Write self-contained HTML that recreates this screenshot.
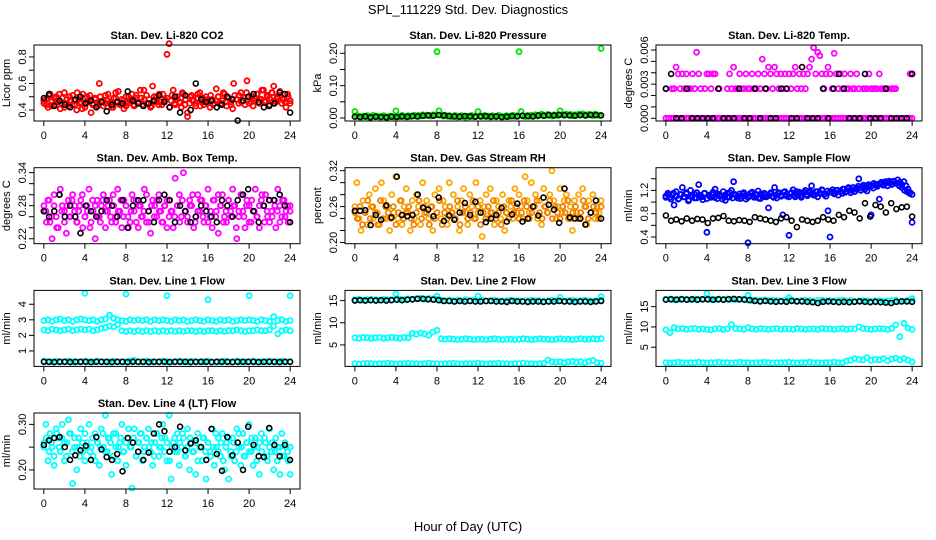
<!DOCTYPE html>
<html><head><meta charset="utf-8"><style>
html,body{margin:0;padding:0;background:#fff;}
svg{display:block;font-family:"Liberation Sans",sans-serif;}
</style></head><body>
<svg id="chart" width="936" height="540" viewBox="0 0 936 540">
<text x="468" y="14" text-anchor="middle" font-size="13">SPL_111229  Std. Dev. Diagnostics</text>
<text x="468" y="531" text-anchor="middle" font-size="13">Hour of Day (UTC)</text>
</svg>
<script>
// ---- data ----
const xTicks = [0,4,8,12,16,20,24];
const co2Red = [.45,.48,.42,.52,.47,.44,.50,.46,.41,.49,.53,.45,.43,.47,.51,.44,.40,.48,.46,.52,.42,.50,.47,.38,.45,.49,.44,.60,.46,.43,.51,.47,.45,.42,.49,.53,.46,.44,.48,.41,.50,.45,.47,.52,.43,.49,.46,.55,.44,.48,.51,.45,.42,.58,.47,.50,.44,.46,.52,.48,.82,.90,.47,.55,.44,.50,.46,.42,.52,.48,.38,.45,.51,.47,.43,.49,.53,.46,.44,.50,.47,.42,.48,.45,.56,.50,.44,.47,.52,.43,.49,.46,.41,.51,.48,.45,.53,.47,.44,.62,.50,.46,.43,.49,.52,.45,.48,.55,.47,.50,.44,.53,.58,.46,.49,.51,.45,.48,.42,.50,.47];
const co2Red2 = [.47,.44,.51,.43,.49,.46,.52,.45,.42,.48,.50,.44,.47,.53,.45,.41,.49,.46,.51,.44,.48,.43,.50,.47,.45,.52,.46,.42,.49,.54,.45,.47,.43,.50,.48,.44,.51,.46,.49,.55,.45,.48,.43,.50,.46,.52,.44,.47,.49,.42,.51,.45,.48,.46,.53,.44,.35,.50,.47,.45,.52,.43,.49,.46,.48,.51,.44,.47,.50,.45,.53,.46,.49,.44,.60,.48,.51,.46,.49,.53,.45,.50,.47,.52,.48,.55,.46,.51,.49,.53,.47,.50,.54,.48,.46,.52,.45];
const co2Black = [.49,.52,.43,.47,.44,.42,.48,.50,.45,.47,.42,.46,.39,.44,.46,.45,.54,.47,.45,.43,.45,.47,.51,.46,.42,.50,.38,.51,.40,.60,.48,.46,.47,.42,.44,.50,.48,.32,.47,.50,.52,.46,.42,.43,.45,.53,.52,.38];
const presGreen = [.020,.008,.005,.003,.006,.004,.007,.002,.005,.008,.004,.006,.003,.005,.007,.004,.002,.006,.005,.003,.022,.006,.004,.008,.005,.003,.007,.004,.006,.009,.005,.008,.006,.010,.007,.009,.008,.006,.010,.009,.205,.022,.008,.006,.009,.005,.007,.004,.006,.008,.003,.005,.007,.004,.002,.006,.005,.008,.004,.006,.020,.007,.005,.008,.004,.006,.003,.007,.005,.004,.008,.006,.003,.005,.007,.004,.006,.008,.005,.007,.205,.020,.006,.004,.008,.005,.009,.007,.010,.006,.008,.012,.009,.007,.011,.008,.006,.010,.009,.007,.022,.010,.008,.012,.009,.011,.007,.010,.008,.012,.009,.013,.010,.008,.011,.009,.007,.012,.010,.008,.215];
const presBlack = [.004,.003,.005,.002,.004,.003,.002,.004,.003,.005,.004,.006,.005,.007,.008,.007,.009,.008,.006,.005,.004,.006,.005,.004,.005,.006,.004,.005,.003,.004,.006,.005,.007,.006,.005,.008,.007,.009,.008,.010,.009,.008,.007,.009,.008,.010,.009,.008];
const tempZero = [0,0,0,0,0,0,0,0,0,0,0,0,0,0,0,0,0,0,0,0,0,0,0,0,0,0,0,0,0,0,0,0,0,0,0,0,0,0,0,0,0,0,0,0,0,0,0,0,0,0,0,0,0,0,0,0,0,0,0,0,0,0,0,0,0,0,0,0,0,0,0,0,0,0,0,0,0,0,0,0,0,0,0,0,0,0,0,0,0,0,0,0,0,0,0,0,0];
const tempMid = [.0026,null,null,.0026,.0026,.0045,.0039,.0026,.0039,.0026,.0039,.0026,.0026,.0039,.0026,.0058,.0039,.0026,null,.0026,.0039,.0039,.0026,.0039,.0039,null,.0026,null,null,null,.0026,.0039,.0026,.0045,.0026,.0026,.0039,.0026,.0026,.0039,.0026,.0026,.0039,.0026,.0026,.0039,.0026,.0052,.0039,.0026,.0045,.0039,.0026,.0045,.0039,.0026,.0039,.0026,.0039,.0026,.0039,.0026,.0039,.0045,.0026,.0039,.0026,.0039,.0026,.0039,.0045,.0052,.0062,.0039,.0058,.0055,.0039,.0026,.0039,.0045,.0039,.0026,.0057,.0039,.0026,.0039,.0026,.0039,.0026,.0026,.0039,.0026,.0026,.0039,.0026,null,.0026,.0026,.0026,.0039,.0026,.0026,.0026,.0026,.0039,.0026,.0026,.0026,.0026,null,.0026,.0026,.0026,null,null,null,null,null,null,.0039,.0039];
const tempBlack = [.0026,.0039,0,0,.0026,0,0,0,0,0,.0026,0,0,0,.0026,0,0,.0026,0,.0026,0,0,.0026,.0026,0,0,.0045,0,0,0,.0026,0,.0026,.0039,.0026,0,0,0,.0039,0,0,0,.0026,0,0,0,0,.0039];
const boxMag = [.28,.27,.29,.25,.22,.30,.26,.24,.31,.28,.27,.23,.29,.26,.30,.28,.25,.27,.29,.24,.26,.28,.31,.25,.27,.22,.29,.26,.28,.30,.24,.27,.29,.25,.28,.26,.31,.27,.24,.29,.28,.26,.25,.30,.27,.29,.24,.28,.26,.31,.25,.27,.23,.29,.28,.26,.30,.27,.25,.28,.29,.26,.27,.24,.33,.28,.30,.26,.34,.27,.25,.29,.28,.24,.26,.30,.27,.29,.25,.28,.31,.26,.24,.29,.27,.23,.28,.30,.26,.25,.29,.27,.31,.28,.22,.26,.30,.27,.24,.29,.28,.25,.27,.31,.26,.24,.29,.28,.30,.26,.25,.27,.29,.24,.31,.28,.26,.29,.27,.25,.28];
const boxMag2 = [.27,.25,.29,.26,.28,.24,.30,.27,.25,.28,.26,.29,.27,.25,.28,.30,.26,.27,.24,.29,.28,.26,.25,.29,.27,.28,.26,.30,.25,.27,.29,.26,.28,.24,.27,.29,.25,.28,.26,.27,.30,.25,.28,.26,.29,.27,.25,.28,.24,.29,.27,.26,.28,.25,.29,.27,.26,.28,.30,.25,.27,.29,.26,.28,.25,.27,.29,.26,.30,.28,.25,.27,.29,.26,.28,.24,.27,.30,.26,.28,.25,.29,.27,.26,.28,.30,.25,.27,.29,.26,.28,.27,.25,.29,.26,.28,.27];
const boxBlack = [.27,.26,.27,.30,.26,.28,.26,.23,.28,.27,.26,.27,.29,.28,.26,.29,.24,.28,.29,.29,.27,.25,.29,.30,.29,.25,.28,.27,.25,.26,.28,.27,.26,.25,.29,.28,.26,.29,.30,.31,.27,.25,.28,.29,.29,.30,.28,.25];
const rhOrange = [.26,.30,.24,.22,.27,.25,.23,.28,.26,.24,.29,.25,.23,.30,.27,.24,.26,.22,.28,.25,.31,.24,.27,.23,.26,.29,.25,.22,.27,.24,.28,.26,.23,.30,.25,.27,.24,.26,.22,.28,.25,.29,.24,.27,.26,.23,.30,.25,.28,.24,.26,.22,.27,.29,.25,.23,.28,.26,.24,.30,.25,.27,.21,.26,.28,.24,.29,.25,.23,.27,.26,.24,.28,.22,.25,.27,.26,.24,.29,.25,.28,.26,.24,.31,.27,.25,.30,.26,.28,.24,.27,.23,.29,.26,.25,.28,.32,.27,.24,.26,.29,.25,.27,.28,.24,.26,.22,.27,.25,.28,.24,.29,.26,.23,.27,.25,.28,.24,.26,.25,.27];
const rhOrange2 = [.25,.24,.26,.23,.25,.27,.24,.26,.25,.23,.27,.24,.26,.25,.24,.26,.23,.25,.27,.24,.25,.26,.24,.23,.25,.27,.24,.26,.25,.23,.26,.24,.25,.27,.23,.25,.24,.26,.25,.24,.27,.23,.25,.26,.24,.25,.27,.24,.26,.23,.25,.24,.26,.25,.27,.24,.25,.23,.26,.25,.24,.27,.25,.26,.24,.25,.27,.26,.24,.25,.26,.27,.25,.24,.26,.25,.27,.24,.26,.25,.24,.26,.25,.27,.24,.25,.26,.24,.25,.27,.26,.24,.25,.26,.25,.24,.26];
const rhBlack = [.253,.253,.254,.229,.246,.238,.262,.242,.31,.246,.244,.246,.28,.258,.255,.244,.275,.236,.245,.238,.25,.266,.246,.268,.25,.234,.24,.246,.258,.235,.247,.265,.235,.24,.26,.245,.275,.263,.255,.233,.29,.242,.24,.24,.23,.25,.27,.24];
const flowBlue = [1.10,1.15,1.08,1.12,0.95,1.18,1.05,1.13,1.25,1.09,1.14,1.02,1.20,1.11,1.07,1.16,1.30,1.10,1.04,1.15,0.48,1.12,1.08,1.17,1.22,1.06,1.13,1.10,1.18,1.03,1.15,1.09,1.20,1.35,1.12,1.07,1.14,1.10,1.16,1.05,0.30,1.11,1.17,1.08,1.13,1.19,1.06,1.12,1.15,1.09,0.90,1.14,1.10,1.25,1.07,1.16,1.12,0.78,1.18,1.10,0.43,1.15,1.21,1.09,1.13,1.17,1.08,1.14,1.20,1.11,1.16,1.28,1.12,1.18,1.09,1.15,1.21,1.13,1.10,0.85,0.40,1.17,1.14,1.20,1.12,1.18,1.15,1.22,1.19,1.25,1.16,1.21,1.18,1.24,1.40,1.20,1.26,1.22,1.19,1.28,0.78,1.24,1.30,1.27,1.05,1.32,1.29,1.35,1.28,1.33,1.30,1.36,1.32,1.38,1.34,1.30,1.35,1.28,1.22,1.16,0.65];
const flowBlue2 = [1.08,1.12,1.05,1.15,1.10,1.06,1.13,1.09,1.16,1.04,1.11,1.14,1.07,1.12,1.09,1.15,1.06,1.10,1.13,1.08,1.14,1.11,1.05,1.12,1.09,1.16,1.07,1.13,1.10,1.06,1.14,1.11,1.08,1.15,1.10,1.12,1.07,1.14,1.09,1.13,1.11,1.16,1.08,1.12,1.15,1.10,1.17,1.13,1.09,1.16,1.12,1.18,1.14,1.11,1.17,1.13,1.19,1.15,1.12,1.18,1.16,1.20,1.14,1.19,1.17,1.21,1.15,1.20,1.18,1.22,1.17,1.23,1.20,1.25,1.22,1.27,1.24,1.29,1.26,1.30,1.27,1.32,1.29,1.31,1.34,1.30,1.33,1.36,1.31,1.35,1.32,1.28,1.25,1.20,1.18,1.15,1.13];
const flowBlack = [.77,.68,.70,.67,.72,.68,.71,.70,.64,.72,.73,.76,.68,.67,.69,.68,.66,.74,.72,.70,.68,.66,.72,.74,.68,.57,.70,.68,.66,.68,.74,.70,.68,.78,.74,.85,.82,.72,.98,.75,.95,.92,.82,.98,.88,.91,.92,.75];
const l1Top = [2.95,3.0,2.9,3.0,3.05,2.95,3.0,2.9,3.0,3.05,3.0,2.95,3.0,2.9,3.0,3.05,3.3,3.1,3.0,2.95,2.9,3.0,2.95,3.0,2.95,3.0,2.9,3.0,2.95,3.0,2.95,2.9,3.0,2.95,3.0,2.9,2.95,3.0,2.95,2.9,3.0,2.95,2.9,3.0,2.95,3.0,2.9,2.95,3.0,2.95,3.0,2.95,2.9,3.0,2.95,2.9,3.2,2.95,3.0,2.9,2.95];
const l1Mid = [2.35,2.3,2.4,2.35,2.3,2.35,2.4,2.3,2.35,2.4,2.35,2.4,2.3,2.35,2.45,2.5,2.6,2.55,2.7,2.3,2.25,2.3,2.25,2.3,2.25,2.3,2.25,2.3,2.25,2.3,2.25,2.3,2.25,2.3,2.25,2.3,2.3,2.25,2.3,2.25,2.3,2.3,2.25,2.3,2.25,2.3,2.3,2.35,2.3,2.25,2.3,2.3,2.35,2.3,2.3,2.35,2.6,2.1,2.3,2.35,2.3];
const l1Low = [.35,.3,.3,.35,.3,.3,.35,.3,.3,.3,.35,.3,.3,.35,.3,.3,.3,.35,.3,.3,.3,.35,.4,.3,.3,.35,.3,.3,.3,.35,.3,.3,.3,.35,.3,.3,.35,.3,.3,.3,.35,.3,.3,.3,.35,.3,.3,.35,.3,.3,.3,.35,.3,.3,.3,.35,.3,.3,.35,.3,.3];
const l1Black = [.3,.3,.28,.3,.3,.28,.3,.3,.3,.28,.3,.3,.3,.28,.3,.3,.28,.3,.3,.3,.28,.3,.3,.3,.28,.3,.3,.3,.28,.3,.3,.3,.28,.3,.3,.3,.28,.3,.3,.3,.3,.28,.3,.3,.3,.28,.3,.3];
const l1Spike = [null,4.7,4.65,4.55,4.3,4.55,4.55];
const l2Top = [15.2,15.3,15.1,15.2,15.3,15.2,15.1,15.3,15.2,15.2,15.4,15.3,15.2,15.4,15.3,15.4,15.5,15.3,15.5,15.4,15.3,15.1,15.0,15.1,15.0,15.1,15.0,15.2,15.0,15.1,15.0,15.1,14.9,15.0,15.1,15.0,14.9,15.0,15.1,15.0,15.0,14.9,15.0,15.1,15.0,15.0,14.9,15.0,15.1,15.0,15.0,14.9,15.0,15.1,14.9,15.0,15.1,15.0,14.9,15.0,15.1];
const l2Mid = [6.6,6.5,6.7,6.6,6.5,6.6,6.7,6.5,6.6,6.7,6.6,6.5,6.7,6.6,7.6,7.4,7.7,7.5,7.2,7.9,8.3,6.4,6.3,6.4,6.3,6.2,6.3,6.4,6.3,6.2,6.3,6.3,6.2,6.3,6.4,6.3,6.2,6.3,6.3,6.2,6.3,6.4,6.3,6.2,6.3,6.4,6.3,6.3,6.2,6.3,6.4,6.3,6.3,6.2,6.3,6.4,6.3,6.3,6.4,6.3,6.4];
const l2Low = [0.8,0.7,0.8,0.9,0.8,0.7,0.8,0.8,0.9,0.8,0.7,0.8,0.8,0.9,0.8,0.8,0.7,0.8,0.9,0.8,0.8,0.7,0.8,0.8,0.9,0.8,0.7,0.8,0.8,0.8,0.9,0.8,0.7,0.8,0.8,0.9,0.8,0.8,0.7,0.8,0.8,0.9,0.8,0.8,0.7,0.8,0.9,1.6,1.2,1.1,1.2,1.0,1.2,1.3,1.1,1.2,1.0,1.3,1.5,1.0,0.9];
const l2Black = [15.0,15.1,15.0,15.1,15.0,15.1,15.0,15.1,15.2,15.1,15.2,15.3,15.4,15.4,15.3,15.2,15.1,14.9,14.9,14.8,14.9,14.8,14.9,14.8,14.8,14.9,14.9,14.8,14.8,14.7,14.9,14.8,14.8,14.7,14.8,14.8,14.7,14.8,14.8,14.9,14.8,14.8,14.7,14.8,14.8,14.7,14.8,14.9];
const l2Spike = [null,16.5,16.0,16.0,null,15.7,15.9];
const l3Top = [16.8,16.9,16.7,16.8,16.9,16.8,16.7,16.9,16.8,16.8,16.9,16.8,16.7,16.9,16.8,16.9,16.8,16.7,16.8,16.9,16.6,16.5,16.6,16.5,16.6,16.5,16.6,16.5,16.4,16.5,16.6,16.5,16.4,16.5,16.6,16.5,16.4,16.5,16.6,16.4,16.5,16.4,16.5,16.6,16.4,16.5,16.3,16.4,16.5,16.4,16.3,16.4,16.5,16.3,16.4,16.5,16.6,16.3,16.4,16.5,16.8];
const l3Mid = [9.3,8.6,9.8,9.5,9.6,9.4,9.5,9.6,9.4,9.5,9.4,9.3,9.5,9.6,9.4,9.5,10.6,9.6,9.5,9.4,9.8,9.5,9.4,9.6,9.5,9.4,9.5,9.6,9.4,9.5,9.5,9.4,9.6,9.5,9.4,9.5,9.5,9.4,9.6,9.5,9.5,9.4,9.5,9.6,9.4,9.5,9.5,10.0,9.6,9.5,9.4,9.5,9.6,9.5,9.4,9.6,10.5,7.6,10.9,9.7,9.4];
const l3Low = [1.2,1.1,1.2,1.3,1.2,1.1,1.2,1.2,1.3,1.2,1.1,1.2,1.2,1.3,1.2,1.2,1.1,1.2,1.3,1.2,1.2,1.1,1.2,1.2,1.3,1.2,1.1,1.2,1.2,1.2,1.3,1.2,1.1,1.2,1.2,1.3,1.2,1.2,1.1,1.2,1.2,1.3,1.2,1.2,1.6,1.8,2.2,2.0,1.9,2.4,1.8,2.0,1.9,2.2,1.7,2.1,2.3,1.9,2.2,1.8,1.4];
const l3Black = [16.7,16.8,16.7,16.8,16.7,16.8,16.7,16.8,16.8,16.7,16.8,16.7,16.8,16.9,16.8,16.7,16.6,16.4,16.3,16.4,16.3,16.2,16.3,16.2,16.4,16.3,16.3,16.2,16.1,15.9,16.2,16.3,16.2,16.1,16.2,16.1,16.2,16.3,16.2,16.1,16.2,16.1,16.0,15.9,16.2,16.3,16.3,16.2];
const l3Spike = [null,18.2,17.8,17.2,null,null,17.0];
const lt4Cyan = [.26,.30,.22,.28,.25,.21,.29,.27,.24,.30,.26,.23,.31,.28,.17,.25,.20,.27,.29,.24,.22,.26,.30,.25,.23,.28,.26,.21,.29,.25,.32,.24,.27,.19,.28,.25,.22,.26,.30,.24,.21,.27,.25,.16,.29,.23,.26,.28,.22,.25,.27,.29,.24,.21,.26,.28,.23,.25,.30,.27,.22,.32,.18,.26,.24,.28,.21,.25,.27,.23,.29,.20,.26,.24,.19,.28,.25,.22,.27,.18,.26,.24,.29,.21,.25,.27,.23,.28,.20,.26,.18,.24,.27,.22,.29,.25,.21,.28,.23,.26,.30,.24,.21,.27,.25,.19,.28,.23,.26,.22,.29,.24,.20,.27,.25,.19,.28,.23,.25,.22,.19];
const lt4Cyan2 = [.25,.27,.24,.26,.23,.28,.25,.27,.22,.26,.28,.24,.27,.25,.23,.26,.28,.25,.24,.27,.22,.26,.25,.28,.24,.27,.26,.23,.28,.25,.27,.24,.26,.29,.25,.27,.23,.26,.28,.24,.27,.25,.26,.23,.28,.25,.27,.24,.26,.22,.25,.27,.24,.26,.28,.23,.25,.27,.24,.26,.22,.25,.27,.24,.26,.23,.25,.28,.24,.26,.22,.25,.27,.23,.26,.24,.28,.25,.23,.26,.24,.27,.25,.22,.26,.24,.27,.23,.25,.26,.24,.22,.25,.23,.26,.24,.25];
const lt4Black = [.255,.265,.27,.272,.25,.222,.232,.243,.253,.222,.272,.245,.228,.222,.235,.197,.27,.26,.24,.222,.238,.28,.3,.285,.24,.25,.295,.243,.258,.265,.25,.222,.29,.235,.198,.272,.232,.26,.2,.295,.255,.23,.228,.292,.255,.23,.255,.222];
// axes ticks
const co2YTicks = [0.4,0.5,0.6,0.7,0.8];
const co2YLabels = ["0.4","","0.6","","0.8"];
const presYTicks = [0,0.05,0.10,0.15,0.20];
const presYLabels = ["0.00","","0.10","","0.20"];
const tempYTicks = [0,0.001,0.002,0.003,0.004,0.005,0.006];
const tempYLabels = ["0.000","","","0.003","","","0.006"];
const boxYTicks = [0.22,0.24,0.26,0.28,0.30,0.32,0.34];
const boxYLabels = ["0.22","","","0.28","","","0.34"];
const rhYTicks = [0.20,0.22,0.24,0.26,0.28,0.30,0.32];
const rhYLabels = ["0.20","","","0.26","","","0.32"];
const flowYTicks = [0.4,0.6,0.8,1.0,1.2,1.4];
const flowYLabels = ["0.4","","0.8","","1.2",""];
const l1YTicks = [1,2,3,4];
const l1YLabels = ["1","2","3","4"];
const l2YTicks = [5,10,15];
const l2YLabels = ["5","10","15"];
const l3YTicks = [5,10,15];
const l3YLabels = ["5","10","15"];
const lt4YTicks = [0.20,0.25,0.30];
const lt4YLabels = ["0.20","","0.30"];

const CYAN='#00ffff';
const panels = [
 {name:'co2',title:'Stan. Dev. Li-820 CO2',ylab:'Licor ppm',col:0,row:0,dom:[0.317,0.89],yt:co2YTicks,yl:co2YLabels,series:[[co2Red,'#ff0000'],[co2Red2,'#ff0000'],[co2Black,'#000']]},
 {name:'pressure',title:'Stan. Dev. Li-820 Pressure',ylab:'kPa',col:1,row:0,dom:[-0.0093,0.2257],yt:presYTicks,yl:presYLabels,series:[[presGreen,'#00e400'],[presBlack,'#000']]},
 {name:'temp',title:'Stan. Dev. Li-820 Temp.',ylab:'degrees C',col:2,row:0,dom:[-0.00024,0.00644],yt:tempYTicks,yl:tempYLabels,series:[[tempZero,'#ff00ff'],[tempMid,'#ff00ff'],[tempBlack,'#000']]},
 {name:'box-temp',title:'Stan. Dev. Amb. Box Temp.',ylab:'degrees C',col:0,row:1,dom:[0.211,0.349],yt:boxYTicks,yl:boxYLabels,series:[[boxMag,'#ff00ff'],[boxMag2,'#ff00ff'],[boxBlack,'#000']]},
 {name:'gas-rh',title:'Stan. Dev. Gas Stream RH',ylab:'percent',col:1,row:1,dom:[0.198,0.325],yt:rhYTicks,yl:rhYLabels,series:[[rhOrange,'#ffa500'],[rhOrange2,'#f08000'],[rhBlack,'#000']]},
 {name:'sample-flow',title:'Stan. Dev. Sample Flow',ylab:'ml/min',col:2,row:1,dom:[0.285,1.59],yt:flowYTicks,yl:flowYLabels,series:[[flowBlue,'#0000ff'],[flowBlue2,'#0000ff'],[flowBlack,'#000']]},
 {name:'line1',title:'Stan. Dev. Line 1 Flow',ylab:'ml/min',col:0,row:2,dom:[0.006,4.89],yt:l1YTicks,yl:l1YLabels,series:[[l1Top,CYAN],[l1Mid,CYAN],[l1Low,CYAN],[l1Spike,CYAN],[l1Black,'#000']]},
 {name:'line2',title:'Stan. Dev. Line 2 Flow',ylab:'ml/min',col:1,row:2,dom:[0.16,17.3],yt:l2YTicks,yl:l2YLabels,series:[[l2Top,CYAN],[l2Mid,CYAN],[l2Low,CYAN],[l2Spike,CYAN],[l2Black,'#000']]},
 {name:'line3',title:'Stan. Dev. Line 3 Flow',ylab:'ml/min',col:2,row:2,dom:[0.27,19.0],yt:l3YTicks,yl:l3YLabels,series:[[l3Top,CYAN],[l3Mid,CYAN],[l3Low,CYAN],[l3Spike,CYAN],[l3Black,'#000']]},
 {name:'line4',title:'Stan. Dev. Line 4 (LT) Flow',ylab:'ml/min',col:0,row:3,dom:[0.158,0.325],yt:lt4YTicks,yl:lt4YLabels,series:[[lt4Cyan,CYAN],[lt4Cyan2,CYAN],[lt4Black,'#000']]}
];
const colLeft=[34,345,656], rowTop=[45,167.7,290.4,413], PW=266, PH=76;
const NS='http://www.w3.org/2000/svg';
const svg=document.getElementById('chart');
function mk(tag,attrs,parent){const e=document.createElementNS(NS,tag);for(const k in attrs)e.setAttribute(k,attrs[k]);parent.appendChild(e);return e;}

panels.forEach(p=>{
  const L=colLeft[p.col], T=rowTop[p.row], B=T+PH;
  const xs=h=>L+(h+0.96)/25.92*PW;
  const ys=v=>B-(v-p.dom[0])/(p.dom[1]-p.dom[0])*PH;
  const g=mk('g',{},svg);
  
  
  const t=mk('text',{x:L+PW/2,y:T-6,'text-anchor':'middle','font-size':'11','font-weight':'bold'},g);
  t.textContent=p.title;
  
  
  const yl=mk('text',{x:0,y:0,'text-anchor':'middle','font-size':'11',transform:`translate(${L-24},${(T+B)/2}) rotate(-90)`},g);
  yl.textContent=p.ylab;
  
  
  p.series.forEach((s,si)=>{
    const vals=s[0], n=vals.length;
    const black = s[1]==='#000';
    const sg=mk('g',{fill:'none',stroke:s[1],'stroke-width':black?'1.6':'1.8'},g);
    
    
    vals.forEach((v,i)=>{
      if(v===null) return;
      const h=n>1?i*24/(n-1):0;
      const c=mk('circle',{cx:xs(h).toFixed(1),cy:ys(v).toFixed(1),r:'2.5'},sg);
      
      
    });
  });
  const r=mk('rect',{x:L,y:T,width:PW,height:PH,fill:'none',stroke:'#000','stroke-width':'1'},g);
  
  
  xTicks.forEach(h=>{
    const x=xs(h);
    mk('line',{x1:x,x2:x,y1:B,y2:B+5,stroke:'#000'},g);
    const tl=mk('text',{x:x,y:B+18,'text-anchor':'middle','font-size':'11'},g);
    tl.textContent=h;
    
    
  });
  p.yt.forEach((v,i)=>{
    const y=ys(v);
    mk('line',{x1:L-5,x2:L,y1:y,y2:y,stroke:'#000'},g);
    if(p.yl[i]){
      const tl=mk('text',{x:0,y:0,'text-anchor':'middle','font-size':'11',transform:`translate(${L-8},${y}) rotate(-90)`},g);
      tl.textContent=p.yl[i];
      
      
    }
  });
});
</script>
</body></html>
